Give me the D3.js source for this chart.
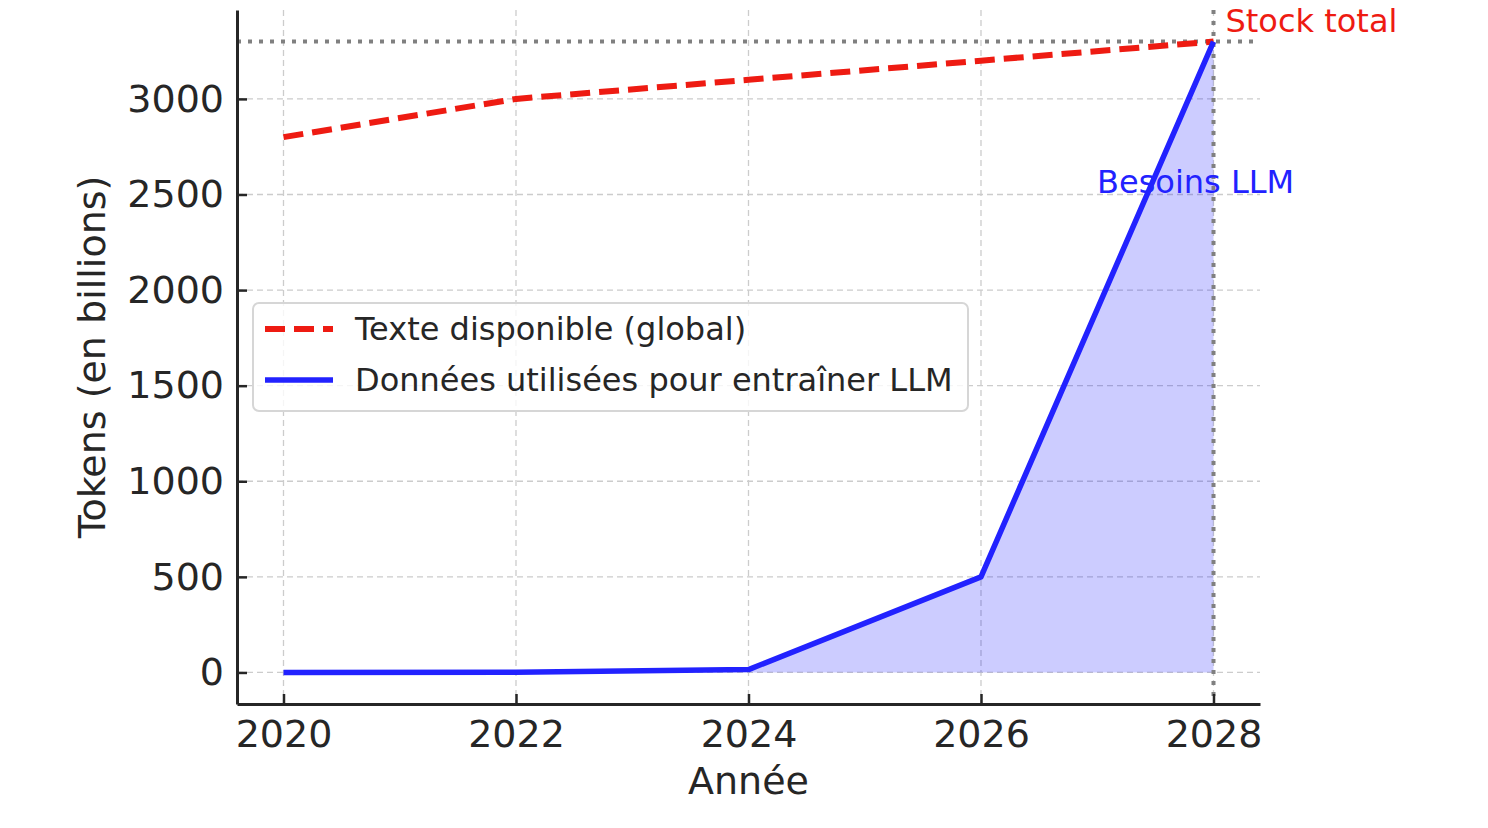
<!DOCTYPE html>
<html>
<head>
<meta charset="utf-8">
<script src="https://cdn.jsdelivr.net/npm/d3@7"></script>
<style>
  body { margin: 0; background: #fff; }
  svg { font-family: "DejaVu Sans", sans-serif; }
</style>
</head>
<body>
<svg id="chart" width="1488" height="828"></svg>
<script>
// Chart data
const years = [2020, 2022, 2024, 2026, 2028];
const texteDisponible = [2800, 3000, 3100, 3200, 3300];
const donneesLLM = [0.3, 1.4, 15, 500, 3300];
const stockTotal = 3300;
const xTicks = [2020, 2022, 2024, 2026, 2028];
const yTicks = [0, 500, 1000, 1500, 2000, 2500, 3000];

const svg = d3.select("#chart");
const margin = { top: 10, right: 228, bottom: 124, left: 237 };
const width = 1488 - margin.left - margin.right;
const height = 828 - margin.top - margin.bottom;

const g = svg.append("g")
    .attr("transform", `translate(${margin.left},${margin.top})`);

const x = d3.scaleLinear().domain([2019.6, 2028.4]).range([0, width]);
const y = d3.scaleLinear().domain([-165, 3465]).range([height, 0]);

const textColor = "#262626";

// Grid lines
g.append("g").selectAll("line")
    .data(xTicks)
    .join("line")
    .attr("x1", d => x(d)).attr("x2", d => x(d))
    .attr("y1", 0).attr("y2", height)
    .attr("stroke", "#cccccc").attr("stroke-width", 1.3)
    .attr("stroke-dasharray", "6,4");

g.append("g").selectAll("line")
    .data(yTicks)
    .join("line")
    .attr("x1", 0).attr("x2", width)
    .attr("y1", d => y(d)).attr("y2", d => y(d))
    .attr("stroke", "#cccccc").attr("stroke-width", 1.3)
    .attr("stroke-dasharray", "6,4");

// Area under LLM curve (from 2024 on)
const fillYears = years.slice(2);
const fillVals = donneesLLM.slice(2);
g.append("path")
    .datum(fillYears.map((d, i) => [d, fillVals[i]]))
    .attr("fill", "#0000ff")
    .attr("fill-opacity", 0.2)
    .attr("d", d3.area()
        .x(d => x(d[0]))
        .y0(y(0))
        .y1(d => y(d[1])));

// Stock total reference lines
g.append("line")
    .attr("x1", 0).attr("x2", width)
    .attr("y1", y(stockTotal)).attr("y2", y(stockTotal))
    .attr("stroke", "#808080").attr("stroke-width", 4)
    .attr("stroke-dasharray", "4,7");

g.append("line")
    .attr("x1", x(2028)).attr("x2", x(2028))
    .attr("y1", 0).attr("y2", height)
    .attr("stroke", "#808080").attr("stroke-width", 4)
    .attr("stroke-dasharray", "4,7");

// Lines
const line = d3.line()
    .x(d => x(d[0]))
    .y(d => y(d[1]));

g.append("path")
    .datum(years.map((d, i) => [d, texteDisponible[i]]))
    .attr("fill", "none")
    .attr("stroke", "#ee1b12")
    .attr("stroke-width", 6)
    .attr("stroke-dasharray", "20,9")
    .attr("d", line);

g.append("path")
    .datum(years.map((d, i) => [d, donneesLLM[i]]))
    .attr("fill", "none")
    .attr("stroke", "#2222ff")
    .attr("stroke-width", 5.5)
    .attr("stroke-linejoin", "round")
    .attr("d", line);

// Axes
const xAxis = g.append("g")
    .attr("transform", `translate(0,${height})`)
    .call(d3.axisBottom(x).tickValues(xTicks).tickFormat(d3.format("d"))
        .tickSizeInner(-10).tickSizeOuter(0).tickPadding(16));
xAxis.select(".domain").attr("stroke", textColor).attr("stroke-width", 3);
xAxis.selectAll(".tick line").attr("stroke", textColor).attr("stroke-width", 2.5);
xAxis.selectAll(".tick text")
    .attr("fill", textColor)
    .style("font-size", "38px")
    .style("font-family", "DejaVu Sans");

const yAxis = g.append("g")
    .call(d3.axisLeft(y).tickValues(yTicks).tickFormat(d3.format("d"))
        .tickSizeInner(-10).tickSizeOuter(0).tickPadding(13));
yAxis.select(".domain").attr("stroke", textColor).attr("stroke-width", 3);
yAxis.selectAll(".tick line").attr("stroke", textColor).attr("stroke-width", 2.5);
yAxis.selectAll(".tick text")
    .attr("fill", textColor)
    .style("font-size", "38px")
    .style("font-family", "DejaVu Sans");

// Axis labels
g.append("text")
    .attr("x", x(2024))
    .attr("y", height + 90)
    .attr("text-anchor", "middle")
    .attr("fill", textColor)
    .style("font-size", "38px")
    .text("Année");

g.append("text")
    .attr("transform", `translate(${92 - margin.left},${357 - margin.top}) rotate(-90)`)
    .attr("text-anchor", "middle")
    .attr("dy", "0.35em")
    .attr("fill", textColor)
    .style("font-size", "38px")
    .text("Tokens (en billions)");

// Annotations
g.append("text")
    .attr("x", x(2028) + 12)
    .attr("y", 22)
    .attr("fill", "#ee1b12")
    .style("font-size", "32px")
    .text("Stock total");

g.append("text")
    .attr("x", 1097 - margin.left)
    .attr("y", 183)
    .attr("fill", "#2222ff")
    .style("font-size", "32px")
    .text("Besoins LLM");

// Legend
const legend = g.append("g")
    .attr("transform", `translate(${253 - margin.left},${303 - margin.top})`);
legend.append("rect")
    .attr("width", 715).attr("height", 108)
    .attr("rx", 6)
    .attr("fill", "#ffffff").attr("fill-opacity", 0.8)
    .attr("stroke", "#d6d6d6").attr("stroke-width", 2);

const legendItems = [
    { label: "Texte disponible (global)", color: "#ee1b12", dash: "20,9", w: 6 },
    { label: "Données utilisées pour entraîner LLM", color: "#2222ff", dash: null, w: 5.5 }
];
legendItems.forEach((item, i) => {
    const ly = 26 + i * 51;
    legend.append("line")
        .attr("x1", 12).attr("x2", 80)
        .attr("y1", ly).attr("y2", ly)
        .attr("stroke", item.color)
        .attr("stroke-width", item.w)
        .attr("stroke-dasharray", item.dash);
    legend.append("text")
        .attr("x", 102)
        .attr("y", ly)
        .attr("dy", "0.35em")
        .attr("fill", textColor)
        .style("font-size", "32px")
        .text(item.label);
});
</script>
</body>
</html>
